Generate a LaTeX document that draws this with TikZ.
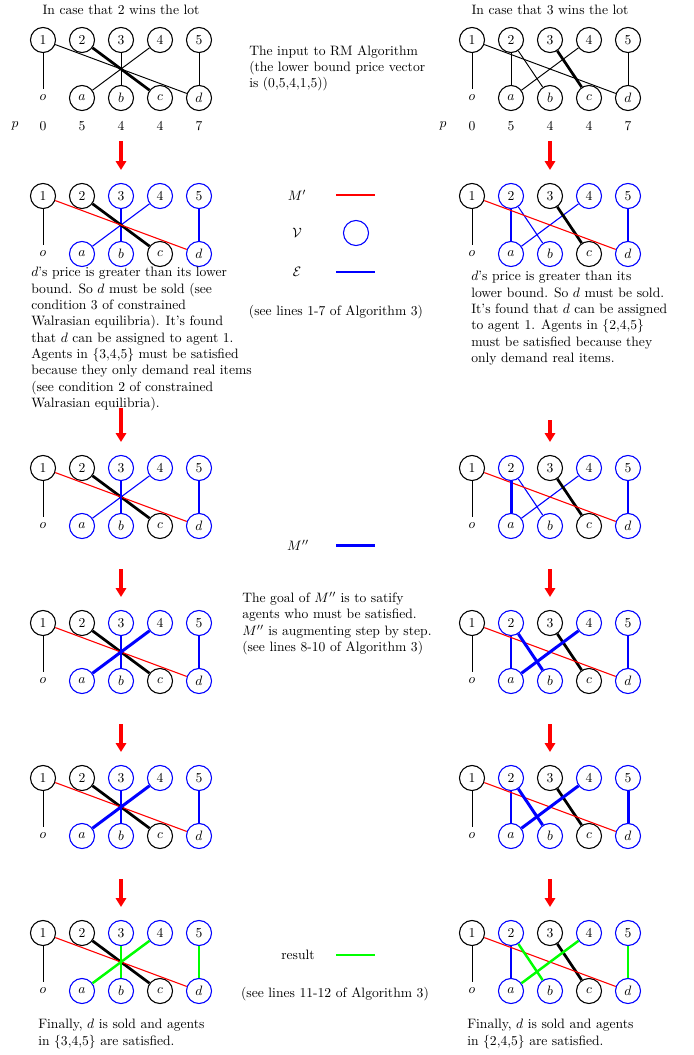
\documentclass[tikz,border=0pt]{standalone}
\usetikzlibrary{arrows.meta}

% one row of agents 1..5: prefix, x of first column, y, styles of the five circles
\newcommand\agentrow[8]{%
  \node[#4] (#1-1) at (#2,#3) {1};
  \node[#5] (#1-2) at (#2+39,#3) {2};
  \node[#6] (#1-3) at (#2+78,#3) {3};
  \node[#7] (#1-4) at (#2+117,#3) {4};
  \node[#8] (#1-5) at (#2+156,#3) {5};}
% one row of items o,a,b,c,d: prefix, x of first column, y, styles of a..d
\newcommand\itemrow[7]{%
  \node[nullitem] (#1-o) at (#2,#3) {$o$};
  \node[#4] (#1-a) at (#2+39,#3) {$a$};
  \node[#5] (#1-b) at (#2+78,#3) {$b$};
  \node[#6] (#1-c) at (#2+117,#3) {$c$};
  \node[#7] (#1-d) at (#2+156,#3) {$d$};}

\begin{document}
\begin{tikzpicture}[x=0.735pt,y=-0.735pt,
  vert/.style={circle,draw,line width=0.8pt,minimum size=18.4pt,inner sep=0pt},
  bvert/.style={vert,draw=blue},
  nullitem/.style={inner sep=4pt},
  plain/.style={inner sep=1pt},
  thinedge/.style={line width=0.7pt},
  heavy/.style={line width=2pt},
  redge/.style={red,line width=0.8pt},
  bedge/.style={blue,line width=0.8pt},
  bheavy/.style={blue,line width=2.2pt},
  gheavy/.style={green,line width=1.8pt},
  stepdown/.style={red,line width=2.4pt,-{Triangle[length=6.5pt,width=7.5pt]}},
  txt/.style={inner sep=0pt,align=left,anchor=north west},
]
\useasboundingbox (0,0) rectangle (694,1055);

% ---------- titles ----------
\node[plain] (titleL) at (121,10) {In case that 2 wins the lot};
\node[plain] (titleR) at (550,10) {In case that 3 wins the lot};

% ---------- first graphs: the input ----------
\agentrow{L1}{43}{40}{vert}{vert}{vert}{vert}{vert}
\itemrow{L1}{43}{98}{vert}{vert}{vert}{vert}
\agentrow{R1}{472}{40}{vert}{vert}{vert}{vert}{vert}
\itemrow{R1}{472}{98}{vert}{vert}{vert}{vert}

\draw[thinedge] (L1-1) -- (L1-o);
\draw[thinedge] (L1-1) -- (L1-d);
\draw[thinedge] (L1-3) -- (L1-b);
\draw[thinedge] (L1-4) -- (L1-a);
\draw[thinedge] (L1-5) -- (L1-d);
\draw[heavy] (L1-2) -- (L1-c);

\draw[thinedge] (R1-1) -- (R1-o);
\draw[thinedge] (R1-1) -- (R1-d);
\draw[thinedge] (R1-2) -- (R1-a);
\draw[thinedge] (R1-2) -- (R1-b);
\draw[thinedge] (R1-4) -- (R1-a);
\draw[thinedge] (R1-5) -- (R1-d);
\draw[heavy] (R1-3) -- (R1-c);

% price rows
\foreach \side/\x/\px in {L/43/15,R/472/443}{
  \node[plain] (\side p) at (\px,126) {$p$};
  \node[plain] (\side p0) at (\x,126) {0};
  \node[plain] (\side p1) at (\x+39,126) {5};
  \node[plain] (\side p2) at (\x+78,126) {4};
  \node[plain] (\side p3) at (\x+117,126) {4};
  \node[plain] (\side p4) at (\x+156,126) {7};
}

% ---------- later graphs: common parts ----------
\foreach \k/\y in {2/196,3/468,4/623,5/778,6/933}{
  \agentrow{L\k}{43}{\y}{vert}{vert}{bvert}{bvert}{bvert}
  \itemrow{L\k}{43}{\y+58}{bvert}{bvert}{vert}{bvert}
  \agentrow{R\k}{472}{\y}{vert}{bvert}{vert}{bvert}{bvert}
  \itemrow{R\k}{472}{\y+58}{bvert}{bvert}{vert}{bvert}
  \draw[thinedge] (L\k-1) -- (L\k-o);
  \draw[thinedge] (R\k-1) -- (R\k-o);
  \draw[bedge] (R\k-2) -- (R\k-a);
}
\foreach \k in {2,3,4,5}{
  \draw[bedge] (L\k-3) -- (L\k-b);
  \draw[bedge] (L\k-4) -- (L\k-a);
  \draw[bedge] (L\k-5) -- (L\k-d);
}
\foreach \k in {2,3}{
  \draw[bedge] (R\k-2) -- (R\k-b);
  \draw[bedge] (R\k-4) -- (R\k-a);
}
\foreach \k in {2,3,4}{
  \draw[bedge] (R\k-5) -- (R\k-d);
}
\foreach \k in {2,3,4,5,6}{
  \draw[heavy] (L\k-2) -- (L\k-c);
  \draw[heavy] (R\k-3) -- (R\k-c);
  \draw[redge] (L\k-1) -- (L\k-d);
  \draw[redge] (R\k-1) -- (R\k-d);
}

% M'' growing step by step
\draw[bheavy] (L3-3) -- (L3-b);
\draw[bheavy] (R3-2) -- (R3-a);
\draw[bheavy] (L4-3) -- (L4-b);
\draw[bheavy] (L4-4) -- (L4-a);
\draw[bheavy] (R4-2) -- (R4-b);
\draw[bheavy] (R4-4) -- (R4-a);
\draw[bheavy] (L5-3) -- (L5-b);
\draw[bheavy] (L5-4) -- (L5-a);
\draw[bheavy] (L5-5) -- (L5-d);
\draw[bheavy] (R5-2) -- (R5-b);
\draw[bheavy] (R5-4) -- (R5-a);
\draw[bheavy] (R5-5) -- (R5-d);

% result
\draw[gheavy] (L6-3) -- (L6-b);
\draw[gheavy] (L6-4) -- (L6-a);
\draw[gheavy] (L6-5) -- (L6-d);
\draw[gheavy] (R6-2) -- (R6-b);
\draw[gheavy] (R6-4) -- (R6-a);
\draw[gheavy] (R6-5) -- (R6-d);

% ---------- red step arrows ----------
\foreach \side/\x in {L/121,R/550}{
  \coordinate (\side s1) at (\x,141); \coordinate (\side e1) at (\x,170);
  \coordinate (\side s3) at (\x,569); \coordinate (\side e3) at (\x,597);
  \coordinate (\side s4) at (\x,724); \coordinate (\side e4) at (\x,752);
  \coordinate (\side s5) at (\x,879); \coordinate (\side e5) at (\x,907);
  \draw[stepdown] (\side s1) -- (\side e1);
  \draw[stepdown] (\side s3) -- (\side e3);
  \draw[stepdown] (\side s4) -- (\side e4);
  \draw[stepdown] (\side s5) -- (\side e5);
}
\coordinate (Ls2) at (121,408); \coordinate (Le2) at (121,442);
\coordinate (Rs2) at (550,420); \coordinate (Re2) at (550,442);
\draw[stepdown] (Ls2) -- (Le2);
\draw[stepdown] (Rs2) -- (Re2);

% ---------- explanations under the graphs ----------
\node[txt] (noteL) at (31,267) {$d$'s price is greater than its lower\\
bound. So $d$ must be sold (see\\
condition 3 of constrained\\
Walrasian equilibria). It's found\\
that $d$ can be assigned to agent 1.\\
Agents in $\{3{,}4{,}5\}$ must be satisfied\\
because they only demand real items\\
(see condition 2 of constrained\\
Walrasian equilibria).};
\node[txt] (noteR) at (471,271) {$d$'s price is greater than its\\
lower bound. So $d$ must be sold.\\
It's found that $d$ can be assigned\\
to agent 1. Agents in $\{2{,}4{,}5\}$\\
must be satisfied because they\\
only demand real items.};
\node[txt] (finL) at (38,1019) {Finally, $d$ is sold and agents\\
in $\{3{,}4{,}5\}$ are satisfied.};
\node[txt] (finR) at (467,1019) {Finally, $d$ is sold and agents\\
in $\{2{,}4{,}5\}$ are satisfied.};

% ---------- middle column: legend ----------
\node[txt] (input) at (249,45) {The input to RM Algorithm\\
(the lower bound price vector\\
is (0,5,4,1,5))};

\node[plain] (legM1) at (297,195) {$M'$};
\coordinate (m1a) at (336,195); \coordinate (m1b) at (375,195);
\draw[redge] (m1a) -- (m1b);
\node[plain] (legV) at (297,233) {$\mathcal{V}$};
\node[bvert] (legVc) at (356,233) {};
\node[plain] (legE) at (297,272) {$\mathcal{E}$};
\coordinate (ea) at (336,272); \coordinate (eb) at (375,272);
\draw[bedge] (ea) -- (eb);
\node[plain] (lines17) at (336,312) {(see lines 1-7 of Algorithm 3)};

\node[plain] (legM2) at (298,545) {$M''$};
\coordinate (m2a) at (336,545); \coordinate (m2b) at (375,545);
\draw[bheavy] (m2a) -- (m2b);
\node[txt] (goal) at (242,592) {The goal of $M''$ is to satify\\
agents who must be satisfied.\\
$M''$ is augmenting step by step.\\
(see lines 8-10 of Algorithm 3)};

\node[plain] (legR) at (298,955) {result};
\coordinate (ra) at (336,955); \coordinate (rb) at (375,955);
\draw[gheavy] (ra) -- (rb);
\node[plain] (lines1112) at (335,994) {(see lines 11-12 of Algorithm 3)};
\end{tikzpicture}
\end{document}
